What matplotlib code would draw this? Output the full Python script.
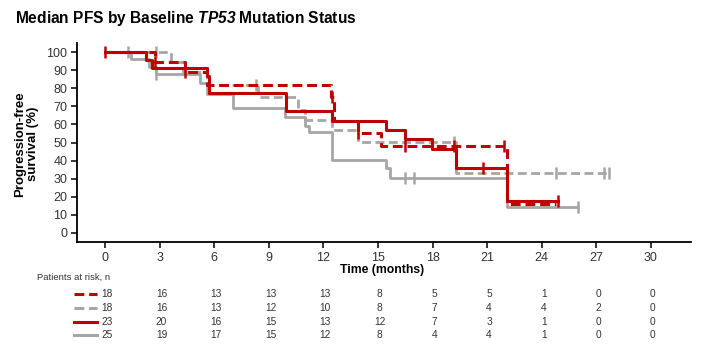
import numpy as np
import matplotlib
matplotlib.use("Agg")
import matplotlib.pyplot as plt
from matplotlib.lines import Line2D
from matplotlib.transforms import blended_transform_factory

plt.rcParams['font.family'] = ['Liberation Sans', 'DejaVu Sans']
# only the title uses mathtext, for the italic gene name
plt.rcParams['mathtext.fontset'] = 'custom'
plt.rcParams['mathtext.it'] = 'Liberation Sans:italic:bold'
plt.rcParams['mathtext.rm'] = 'Liberation Sans:italic:bold'

# data
# red dashed (n=18)
t_rd = [0, 2.75, 4.4, 5.6, 12.4, 12.6, 13.9, 15.15, 22.07, 24.8]
s_rd = [100, 94.4, 88.9, 81.8, 75.4, 61.9, 55.0, 48.0, 15.8, 15.8]
c_rd = [2.75, 4.4, 12.5, 13.9, 16.5, 19.2, 21.9]
# grey dashed (n=18)
t_gd = [0, 3.6, 4.3, 5.6, 8.4, 10.6, 11.0, 12.5, 13.9, 19.3, 27.7]
s_gd = [100, 94.4, 88.9, 81.8, 75.4, 68.0, 62.7, 56.9, 50.4, 33.3, 33.3]
c_gd = [1.27, 2.8, 8.3, 19.2, 24.8, 27.4, 27.7]
# red solid (n=23)
t_rs = [0, 2.24, 2.6, 5.6, 5.7, 9.94, 12.45, 15.44, 16.5, 17.95, 19.3, 22.07, 24.9]
s_rs = [100, 95.7, 91.3, 87.0, 77.2, 67.4, 61.9, 56.9, 51.8, 46.2, 36.1, 17.9, 17.9]
c_rs = [0, 20.75, 24.9]
# grey solid (n=25)
t_gs = [0, 1.4, 2.4, 2.8, 5.2, 5.6, 7.05, 9.9, 11.0, 11.2, 12.45, 15.44, 15.66, 22.07, 26.0]
s_gs = [100, 96, 92, 88, 82.7, 77, 68.9, 64.3, 59.1, 56, 40.3, 35.7, 30.6, 14.5, 14.5]
c_gs = [2.8, 16.5, 17.0, 26.0]

risk_times = [0, 3, 6, 9, 12, 15, 18, 21, 24, 27, 30]
risk_rd = [18, 16, 13, 13, 13, 8, 5, 5, 1, 0, 0]
risk_gd = [18, 16, 13, 12, 10, 8, 7, 4, 4, 2, 0]
risk_rs = [23, 20, 16, 15, 13, 12, 7, 3, 1, 0, 0]
risk_gs = [25, 19, 17, 15, 12, 8, 4, 4, 1, 0, 0]

red = '#C00000'
grey = '#A6A6A6'
dash = (0, (3.2, 1.6))

W, H = 702, 354
fig = plt.figure(figsize=(W / 100, H / 100), dpi=100)
ax = fig.add_axes([77 / W, 1 - 242 / H, (691 - 77) / W, (242 - 43) / H])

curves = [
    (t_gs, s_gs, c_gs, grey, '-', 2.0),
    (t_gd, s_gd, c_gd, grey, dash, 2.0),
    (t_rs, s_rs, c_rs, red, '-', 2.2),
    (t_rd, s_rd, c_rd, red, dash, 2.2),
]
for t, s, c, col, ls, lw in curves:
    ax.step(t, s, where='post', color=col, linestyle=ls, linewidth=lw)
    idx = np.searchsorted(t, c, side='right') - 1
    cy = np.array(s)[idx]
    ax.plot(c, cy, linestyle='none', marker='|', markersize=9,
            markeredgewidth=1.8, color=col)

ax.set_xlim(-1.54, 32.2)
ax.set_ylim(-5, 105)
ax.set_xticks(risk_times)
ax.set_yticks(range(0, 101, 10))
for sp in ['top', 'right']:
    ax.spines[sp].set_visible(False)
for sp in ['left', 'bottom']:
    ax.spines[sp].set_linewidth(1.3)
ax.tick_params(axis='both', direction='out', length=4, width=1.1,
               labelsize=9, labelcolor='#333333', pad=3)

fig.text(15 / W, 1 - 19 / H, 'Median PFS by Baseline $TP53$ Mutation Status',
         fontsize=11.2, fontweight='bold', va='center', ha='left')
fig.text(27 / W, 1 - 144 / H, 'Progression-free\nsurvival (%)', rotation=90,
         fontsize=9.5, fontweight='bold', ha='center', va='center',
         multialignment='center', linespacing=1.1)
fig.text(382 / W, 1 - 270 / H, 'Time (months)', fontsize=8.8,
         fontweight='bold', ha='center', va='center')

# risk table
fig.text(37 / W, 1 - 277 / H, 'Patients at risk, n', fontsize=6.8,
         color='#333333', va='center')
tr = blended_transform_factory(ax.transData, fig.transFigure)
rows = [(risk_rd, red, dash), (risk_gd, grey, dash),
        (risk_rs, red, '-'), (risk_gs, grey, '-')]
row_y = [294, 308, 322, 335]
for (vals, col, ls), py in zip(rows, row_y):
    yf = 1 - py / H
    fig.add_artist(Line2D([74 / W, 97 / W], [yf, yf], color=col,
                          linestyle=ls, linewidth=2.2))
    for x, v in zip(risk_times, vals):
        ax.text(x + 0.1, yf, str(v), transform=tr, ha='center', va='center',
                fontsize=7.3, color='#333333', clip_on=False)

fig.savefig('out.png', dpi=100)
